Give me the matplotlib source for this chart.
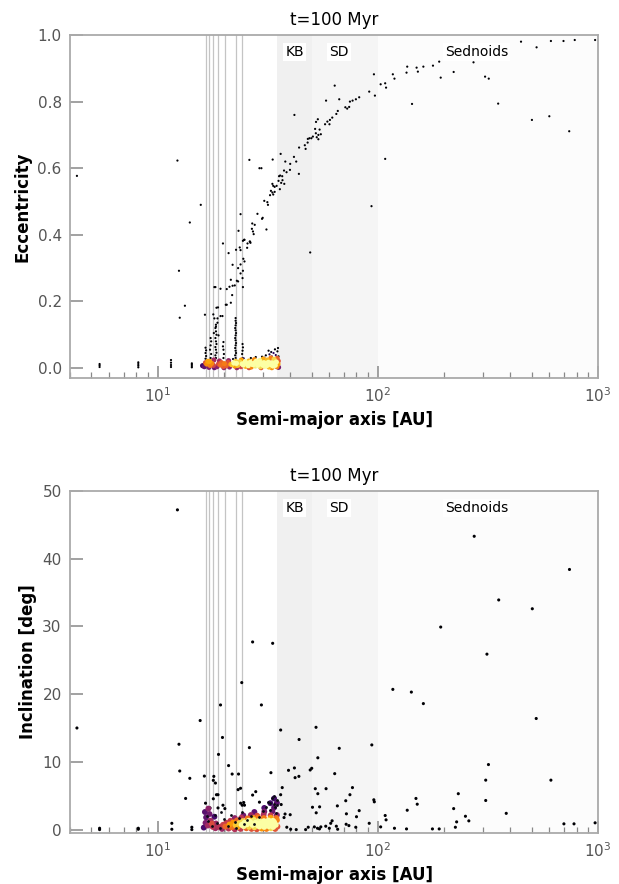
import numpy as np
import matplotlib
matplotlib.use("Agg")
import matplotlib.pyplot as plt

# planet / resonance markers and regions
vlines_a = [16.6, 17.2, 17.9, 18.8, 20.2, 22.8, 24.2]
regions = [(35, 50, "#f0f0f0", "KB", 42.0), (50, 100, "#f5f5f5", "SD", 66.5),
           (100, 1000, "#fcfcfc", "Sednoids", 280.0)]

# ---- eccentricity panel ----
a_e_cloud = [18.6, 19.9, 21.2, 22.4, 23.9, 25.1, 26.6, 27.8, 29.3, 30.6, 32.0, 33.4, 34.8,
             17.9, 19.3, 20.5, 21.8, 23.1, 24.5, 25.8, 27.2, 28.5, 30.0, 31.3, 32.8, 34.2,
             18.9, 20.1, 21.5, 22.8, 24.2, 25.5, 26.9, 28.2, 29.7, 31.1, 32.5, 33.9, 35.2,
             19.5, 20.9, 22.2, 23.6, 24.9, 26.3, 27.6, 29.0, 30.4, 31.8, 33.2, 34.6,
             17.2, 18.0, 19.1, 21.0, 22.6, 24.0, 26.0, 27.5, 29.1, 30.2, 31.5, 32.7, 33.8, 34.9, 35.3, 28.0, 25.0,
             16.3, 16.7, 16.9, 17.3, 16.5, 17.6, 16.0, 17.1, 18.1, 20.0, 22.9, 26.0, 29.5, 33.0, 35.4]
e_cloud = [0.004, 0.005, 0.003, 0.006, 0.004, 0.005, 0.003, 0.006, 0.004, 0.005, 0.003, 0.006, 0.004,
           0.008, 0.009, 0.007, 0.010, 0.008, 0.009, 0.007, 0.010, 0.008, 0.009, 0.007, 0.010, 0.008,
           0.012, 0.013, 0.011, 0.014, 0.012, 0.013, 0.011, 0.014, 0.012, 0.013, 0.011, 0.014, 0.012,
           0.016, 0.017, 0.015, 0.018, 0.016, 0.017, 0.015, 0.018, 0.016, 0.017, 0.015, 0.018,
           0.020, 0.024, 0.021, 0.022, 0.020, 0.024, 0.021, 0.025, 0.022, 0.027, 0.024, 0.030, 0.026, 0.029, 0.021, 0.020, 0.019,
           0.004, 0.012, 0.020, 0.008, 0.016, 0.014, 0.007, 0.002, 0.001, 0.001, 0.001, 0.001, 0.001, 0.001, 0.002]

a_e_sc = [4.3, 12.3, 15.7, 14.0, 12.5, 13.3, 12.6, 16.4,
          26.1, 29.0, 29.6, 23.8, 28.4, 26.9, 27.6, 26.8, 27.1, 27.3,
          23.3, 24.8, 24.4, 26.3, 25.6, 25.5, 19.8, 22.7, 23.6, 23.8, 21.0,
          24.5, 24.8, 23.8, 21.9, 23.2, 24.4, 23.8, 24.3, 23.2, 21.5, 22.9,
          18.3, 19.3, 20.6, 21.2, 21.9, 22.4, 24.4, 18.1, 21.8, 20.4, 21.5, 18.5, 18.8,
          17.9, 18.7, 18.4, 19.3, 19.7, 18.7, 18.1, 20.6,
          96, 103, 108, 109, 63.7, 91.4, 97, 58.2, 66.8, 74.7, 76.8, 79.5, 82.3, 71.2, 72.6, 74.1,
          65.8, 64.8, 53.4, 52.4, 62.1, 60.6, 59.0, 57.6, 60.3, 41.8, 51.9, 54.4, 52.3, 53.7, 55.1,
          50.7, 49.9, 48.9, 48.1, 53.7, 52.8, 48.0, 46.6, 47.0, 43.9, 41.6, 42.6, 40.0, 38.0, 36.2,
          33.3, 43.8, 39.9, 37.5, 38.5, 36.0, 35.6, 36.8, 36.9, 35.4, 36.4, 37.6, 33.2, 33.5, 34.0,
          34.7, 35.9, 32.7, 33.2, 34.0, 32.4, 33.5, 30.5, 31.5, 31.7, 30.0, 29.8, 31.2, 24.7, 26.2,
          26.4, 49.3, 93.6, 108,
          447, 611, 697, 784, 970, 526, 272, 190, 178, 161, 150, 152, 136, 135, 117, 119, 193, 221,
          307, 319, 143, 352, 501, 601, 740,
          5.45, 5.45, 5.45, 8.17, 8.17, 8.17, 8.17, 11.5, 11.5, 11.5, 11.5, 14.3, 14.3, 14.3, 14.3,
          29.8, 31.0, 32.2, 33.0, 33.6, 34.4, 35.0, 34.1, 32.8, 35.4, 30.5, 26.5, 27.9, 24.6, 22.0, 31.9, 35.2,
          16.5, 16.6, 16.5, 16.6, 16.5,
          17.4, 17.5, 17.3, 17.4, 17.5, 17.4,
          18.4, 18.3, 18.5, 18.4, 18.3, 18.5, 18.4, 18.3, 18.5, 18.4, 18.3, 18.4, 18.0, 18.9,
          19.9, 20.0, 19.9, 19.8, 19.9,
          22.6, 22.5, 22.7, 22.6, 22.5, 22.6, 22.7, 22.6, 22.5, 22.6, 22.7, 22.6, 22.5, 22.6, 22.7, 22.6, 22.6,
          24.3, 24.2, 24.3, 24.4, 24.3]
e_sc = [0.577, 0.623, 0.49, 0.437, 0.292, 0.187, 0.151, 0.16,
        0.625, 0.60, 0.60, 0.462, 0.463, 0.434, 0.43, 0.418, 0.41, 0.402,
        0.412, 0.385, 0.382, 0.379, 0.374, 0.361, 0.374, 0.355, 0.362, 0.354, 0.345,
        0.328, 0.32, 0.311, 0.31, 0.30, 0.292, 0.284, 0.27, 0.26, 0.265, 0.262,
        0.243, 0.238, 0.237, 0.244, 0.247, 0.248, 0.243, 0.243, 0.219, 0.19, 0.196, 0.181, 0.182,
        0.161, 0.149, 0.124, 0.156, 0.156, 0.136, 0.149, 0.19,
        0.882, 0.852, 0.855, 0.842, 0.848, 0.83, 0.818, 0.803, 0.807, 0.80, 0.803, 0.807, 0.813, 0.783, 0.779, 0.784,
        0.772, 0.763, 0.747, 0.739, 0.752, 0.745, 0.74, 0.732, 0.732, 0.76, 0.718, 0.716, 0.705, 0.70, 0.702,
        0.695, 0.69, 0.69, 0.688, 0.687, 0.693, 0.677, 0.669, 0.658, 0.662, 0.634, 0.62, 0.613, 0.62, 0.643,
        0.626, 0.583, 0.595, 0.593, 0.588, 0.578, 0.576, 0.576, 0.564, 0.562, 0.556, 0.553, 0.553, 0.547, 0.544,
        0.547, 0.537, 0.532, 0.527, 0.529, 0.519, 0.521, 0.502, 0.498, 0.49, 0.451, 0.448, 0.416, 0.385, 0.38,
        0.376, 0.347, 0.486, 0.628,
        0.98, 0.982, 0.982, 0.985, 0.985, 0.963, 0.918, 0.92, 0.908, 0.905, 0.902, 0.89, 0.905, 0.887, 0.882, 0.869, 0.872, 0.889,
        0.875, 0.869, 0.793, 0.794, 0.745, 0.756, 0.711,
        0.003, 0.008, 0.012, 0.002, 0.007, 0.012, 0.017, 0.003, 0.009, 0.016, 0.024, 0.002, 0.006, 0.010, 0.014,
        0.034, 0.038, 0.041, 0.035, 0.045, 0.039, 0.050, 0.056, 0.048, 0.035, 0.031, 0.030, 0.033, 0.029, 0.027, 0.052, 0.060,
        0.028, 0.036, 0.045, 0.053, 0.061,
        0.030, 0.042, 0.055, 0.068, 0.080, 0.090,
        0.030, 0.038, 0.046, 0.055, 0.063, 0.072, 0.080, 0.090, 0.100, 0.110, 0.120, 0.130, 0.105, 0.098,
        0.030, 0.042, 0.055, 0.065, 0.078,
        0.030, 0.038, 0.045, 0.052, 0.060, 0.068, 0.075, 0.083, 0.090, 0.098, 0.105, 0.113, 0.120, 0.128, 0.135, 0.142, 0.150,
        0.030, 0.042, 0.052, 0.062, 0.072]

# ---- inclination panel ----
a_i_cloud = [16.2, 16.5, 16.6, 16.9, 17.2, 17.4, 17.8, 18.1, 18.4, 16.4, 17.0, 18.3, 17.6,
             19.6, 21.0, 22.4, 23.8, 25.3, 26.7, 28.2, 29.7, 31.2, 32.7, 34.2,
             19.0, 20.3, 21.7, 23.1, 24.6, 26.0, 27.5, 29.0, 30.5, 32.0, 33.5, 35.0,
             19.8, 21.2, 22.6, 24.1, 25.5, 27.0, 28.5, 30.0, 31.5, 33.0, 34.4,
             20.5, 22.0, 23.4, 24.8, 26.3, 27.8, 29.3, 30.8, 32.3, 33.8,
             21.4, 22.9, 24.4, 25.9, 27.4, 28.9, 30.4, 31.9, 33.4, 34.8,
             22.4, 24.0, 25.6, 27.1, 28.6, 30.4, 32.6, 34.6,
             24.5, 26.5, 28.3, 30.3, 32.6, 34.8,
             27.5, 30.5, 33.2,
             30.5, 33.8,
             32.5, 34.8,
             33.8]
i_cloud = [0.3, 1.0, 1.8, 0.6, 2.3, 1.3, 0.4, 1.9, 0.9, 2.6, 3.1, 0.2, 0.9,
           0.1, 0.15, 0.05, 0.1, 0.2, 0.1, 0.05, 0.15, 0.1, 0.2, 0.1,
           0.4, 0.45, 0.35, 0.4, 0.5, 0.4, 0.35, 0.45, 0.4, 0.5, 0.4, 0.45,
           0.7, 0.75, 0.65, 0.7, 0.8, 0.7, 0.65, 0.75, 0.7, 0.8, 0.7,
           1.0, 1.05, 0.95, 1.0, 1.1, 1.0, 0.95, 1.05, 1.0, 1.1,
           1.3, 1.35, 1.25, 1.3, 1.4, 1.3, 1.25, 1.35, 1.3, 1.4,
           1.7, 1.75, 1.65, 1.7, 1.8, 1.7, 1.75, 1.7,
           2.1, 2.15, 2.05, 2.2, 2.1, 2.15,
           2.6, 2.65, 2.7,
           3.2, 3.25,
           3.9, 3.95,
           4.6]

a_i_sc = [4.3, 12.3, 27.0, 33.3, 24.1, 19.3, 29.6, 15.6, 12.5, 19.7, 18.9, 26.1, 12.6, 14.0, 21.0,
          16.3, 18.0, 17.9, 18.3, 21.8, 23.3, 13.4, 23.8, 23.2, 27.0, 27.9, 18.5, 18.8, 16.5, 17.9,
          24.6, 24.2, 23.8, 24.8, 29.0, 19.8, 20.2, 17.3, 18.8, 11.6, 11.6, 8.17, 8.17, 5.45, 5.45, 14.3, 14.3,
          36.2, 52.4, 43.9, 53.4, 66.8, 93.9, 63.7, 32.7, 39.3, 41.8, 42.1, 43.8, 49.3, 50.1, 36.8, 36.2,
          52.0, 58.2, 53.4, 76.7, 74.7, 95.9, 96.4, 108, 109, 71.5, 65.5, 50.5, 54.4, 52.5, 82.3, 80, 72,
          40, 37.9, 37.5, 36.4,
          38.6, 40.2, 42.6, 47, 48.3, 51.5, 53.2, 54.3, 55.1, 58, 60.2, 62, 61.1, 64.8, 65.7, 71.8, 73.9, 79.4, 91.4, 103,
          274, 742, 354, 503, 193, 313, 117, 142, 161, 524, 318, 309, 611, 309, 232, 149, 151, 136, 221, 383,
          250, 228, 259, 225, 119, 135, 177, 190, 700, 778, 970]
i_sc = [15.0, 47.2, 27.7, 27.5, 21.7, 18.4, 18.4, 16.1, 12.6, 13.6, 11.1, 12.1, 8.65, 7.57, 9.45,
        7.9, 7.86, 7.27, 6.87, 8.2, 8.2, 4.6, 6.1, 5.9, 5.1, 5.6, 5.15, 5.15, 3.9, 4.55,
        4.0, 3.6, 3.9, 3.6, 4.05, 3.6, 3.1, 3.2, 3.2, 0.93, 0.05, 0.2, 0.05, 0.2, 0.0, 0.35, 0.0,
        14.7, 15.1, 13.3, 10.6, 12.0, 12.5, 8.26, 8.4, 8.75, 9.1, 7.67, 7.86, 8.8, 9.05, 6.2, 5.15,
        6.04, 6.04, 5.3, 6.2, 5.15, 4.4, 4.1, 2.08, 1.44, 4.26, 3.5, 3.3, 3.36, 2.48, 2.8, 1.9, 2.33,
        2.2, 2.3, 1.78, 3.7,
        0.35, 0.05, 0.0, 0.0, 0.35, 0.4, 0.2, 0.1, 0.4, 0.5, 0.2, 1.3, 0.93, 0.5, 0.05, 0.79, 0.59, 0.35, 0.93, 0.4,
        43.3, 38.4, 33.9, 32.6, 29.9, 25.9, 20.7, 20.3, 18.6, 16.4, 9.6, 7.3, 7.3, 4.3, 5.3, 4.6, 3.75, 2.86, 3.1, 2.4,
        1.97, 1.14, 1.29, 0.35, 0.2, 0.1, 0.1, 0.1, 0.85, 0.85, 1.0]

# high-eccentricity particles sitting inside the low-inclination cloud
a_i_hot = [17.0, 17.6, 18.2, 18.6, 19.2, 20.0, 20.8, 21.6, 22.4, 22.8, 23.5, 24.2, 24.6,
           25.4, 26.5, 27.5, 28.8, 30.0, 31.2, 32.5, 33.6, 34.4, 35.0, 16.7, 19.5,
           31.8, 33.0, 34.0, 34.9, 32.4, 33.9]
i_hot = [1.2, 0.5, 2.1, 1.0, 0.3, 1.6, 0.6, 2.2, 1.1, 0.3, 1.7, 2.6, 0.8,
         1.4, 2.0, 0.9, 1.8, 2.7, 3.3, 2.9, 3.8, 2.4, 4.4, 2.0, 2.6,
         4.1, 4.6, 3.4, 3.7, 3.9, 4.9]


def density_colours(a, y, n_cl, ylo, yhi, pct, wpx=528, hpx=343, bw=3.0):
    # local point density in screen space, mapped to [0, 1] for the colormap
    u = (np.log10(a) - np.log10(4)) / (np.log10(1000) - np.log10(4)) * wpx
    v = (y - ylo) / (yhi - ylo) * hpx
    d2 = (u[:, None] - u[None, :]) ** 2 + (v[:, None] - v[None, :]) ** 2
    d = np.exp(-d2 / (2 * bw * bw)).sum(axis=1)
    dc = d[:n_cl]
    q = np.percentile(dc, pct)
    c = np.empty_like(d)
    c[:n_cl] = 0.2 + 0.8 * np.clip((dc - dc.min()) / (q - dc.min()), 0, 1) ** 1.3
    c[n_cl:] = 0.45 * np.clip((d[n_cl:] - 4.0) / (q - 4.0), 0, 1)
    return c


def panel(ax, a_cl, y_cl, a_s, y_s, ylo, yhi, s_cl, s_sc, pct):
    for lo, hi, col, lab, xt in regions:
        ax.axvspan(lo, hi, color=col, zorder=0, lw=0)
        ax.text(xt, 0.95, lab, transform=ax.get_xaxis_transform(), ha="center", va="center",
                fontsize=10, zorder=5, bbox=dict(facecolor="white", edgecolor="none", pad=1.5))
    for x in vlines_a:
        ax.axvline(x, color="#c4c4c4", lw=0.9, zorder=1)
    a = np.array(a_cl + a_s, dtype=float)
    y = np.array(y_cl + y_s, dtype=float)
    sz = np.array([s_cl] * len(a_cl) + [s_sc] * len(a_s))
    c = density_colours(a, y, len(a_cl), ylo, yhi, pct)
    o = np.argsort(c)
    ax.scatter(a[o], y[o], c=c[o], s=sz[o], cmap="inferno", vmin=0, vmax=1, linewidths=0, zorder=3)
    ax.set_xscale("log")
    ax.set_xlim(4, 1000)
    ax.set_ylim(ylo, yhi)
    for sp in ax.spines.values():
        sp.set_color("#aaaaaa")
        sp.set_linewidth(1.3)
    ax.tick_params(which="both", direction="in", color="#888888", labelcolor="#555555",
                   labelsize=11, top=False, right=False)
    ax.tick_params(which="major", length=9, width=1.1, pad=6)
    ax.tick_params(which="minor", length=4.5, width=0.9)
    ax.set_title("t=100 Myr", fontsize=12, pad=7)
    ax.set_xlabel("Semi-major axis [AU]", fontsize=12, fontweight="bold")


fig = plt.figure(figsize=(6.19, 8.84), dpi=100)
ax1 = fig.add_axes([0.1131, 0.5724, 0.853, 0.388])
ax2 = fig.add_axes([0.1131, 0.0577, 0.853, 0.3870])

panel(ax1, a_e_cloud, e_cloud, a_e_sc, e_sc, -0.03, 1.0, 14, 2.5, 65)
ax1.set_yticks([0.0, 0.2, 0.4, 0.6, 0.8, 1.0])
ax1.set_yticklabels(["0.0", "0.2", "0.4", "0.6", "0.8", "1.0"])
ax1.set_ylabel("Eccentricity", fontsize=12, fontweight="bold")

panel(ax2, a_i_cloud, i_cloud, a_i_sc, i_sc, -0.5, 50, 18, 5, 75)
ax2.scatter(a_i_hot, i_hot, s=4, color="#0a0a14", linewidths=0, zorder=4)
ax2.set_yticks([0, 10, 20, 30, 40, 50])
ax2.set_ylabel("Inclination [deg]", fontsize=12, fontweight="bold")

fig.savefig("out.png", dpi=100)
